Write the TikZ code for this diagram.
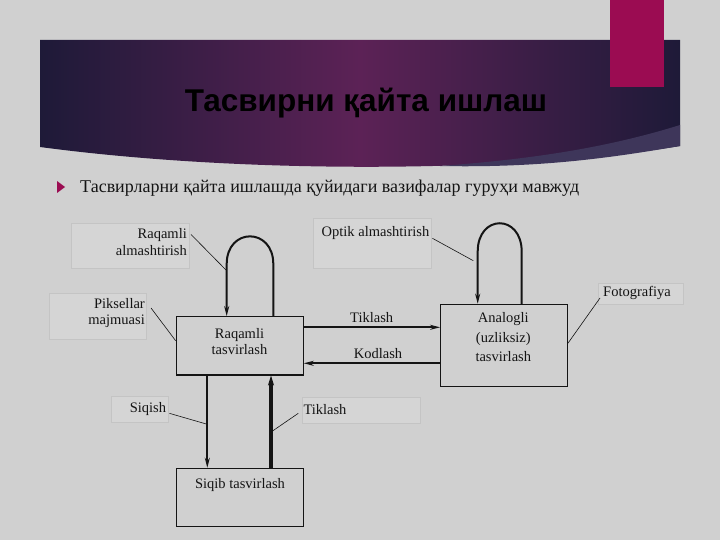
\documentclass[tikz,border=0pt]{standalone}
\usepackage{fontspec}
\setmainfont{Liberation Serif}
\newfontfamily\titlefont{Liberation Sans}
\usetikzlibrary{arrows.meta,calc}
\definecolor{bgc}{RGB}{208,208,208}
\definecolor{banddark}{RGB}{30,26,56}
\definecolor{bandmid}{RGB}{92,34,86}
\definecolor{swoosh}{RGB}{62,54,90}
\definecolor{pinkc}{RGB}{155,12,82}
\definecolor{lblfill}{RGB}{213,213,213}
\definecolor{lbldraw}{RGB}{196,196,196}
\definecolor{ink}{RGB}{20,20,20}
\tikzset{
  procbox/.style={draw=ink,line width=1.1pt,inner sep=0pt},
  lblbox/.style={draw=lbldraw,fill=lblfill,line width=0.6pt,inner sep=0pt},
  dtxt/.style={font=\fontsize{14.5}{16.5}\selectfont,text=ink,inner sep=0pt,align=center},
  leader/.style={draw=ink,line width=0.6pt},
  flow/.style={draw=ink,line width=2pt,-{Stealth[length=10pt,width=5pt]}},
  thickflow/.style={draw=ink,line width=3.2pt,-{Stealth[length=10pt,width=6pt]}}
}
\begin{document}
\begin{tikzpicture}[x=1pt,y=-1pt]
\useasboundingbox (0,0) rectangle (720,540);
\fill[bgc] (0,0) rectangle (720,540);
% header band
\shade[left color=banddark,right color=banddark,middle color=bandmid]
  (40,40) -- (680,40) -- (680,146) .. controls (520,172) and (250,175) .. (40,147) -- cycle;
\fill[swoosh] (680,125) .. controls (600,150) and (520,160) .. (440,166)
  .. controls (540,168) and (610,158) .. (680,146) -- cycle;
\fill[pinkc] (610,0) rectangle (664,87);
\node[font=\titlefont\bfseries\fontsize{31.5}{36}\selectfont,text=black,inner sep=0pt] (title) at (366,103) {Тасвирни қайта ишлаш};
% bullet
\fill[pinkc] (57,181) -- (65,187) -- (57,193) -- cycle;
\node[anchor=west,font=\fontsize{18}{21}\selectfont,text=ink,inner sep=0pt] (intro) at (80,188.5) {Тасвирларни қайта ишлашда қуйидаги вазифалар гуруҳи мавжуд};
% label boxes
\node[lblbox,minimum width=118pt,minimum height=45pt] (lb1) at (130,245.5) {};
\node[dtxt,align=right,anchor=east] (lt1) at (187,242) {Raqamli\\almashtirish};
\node[lblbox,minimum width=97pt,minimum height=46pt] (lb2) at (97.5,316) {};
\node[dtxt,align=right,anchor=east] (lt2) at (145,313) {Piksellar\\majmuasi};
\node[lblbox,minimum width=118pt,minimum height=50pt] (lb3) at (372.5,243.3) {};
\node[dtxt,anchor=west] (lt3) at (321.5,233.3) {Optik almashtirish};
\node[lblbox,minimum width=85pt,minimum height=21pt] (lb4) at (640.5,293.3) {};
\node[dtxt,anchor=west] (lt4) at (603,293) {Fotografiya};
\node[lblbox,minimum width=57pt,minimum height=26pt] (lb5) at (140,409.7) {};
\node[dtxt] (lt5) at (148,409.3) {Siqish};
\node[lblbox,minimum width=118pt,minimum height=26pt] (lb6) at (361.5,410.3) {};
\node[dtxt,anchor=west] (lt6) at (303.3,409.3) {Tiklash};
% process boxes
\node[procbox,minimum width=127pt,minimum height=58.3pt] (rt) at (239.7,345.8) {};
\node[dtxt] (rtt) at (239.5,341.7) {Raqamli\\tasvirlash};
\node[procbox,minimum width=126.7pt,minimum height=82.4pt] (an) at (504,345.5) {};
\node[dtxt,font=\fontsize{14.5}{19.5}\selectfont] (ant) at (503.3,337.5) {Analogli\\(uzliksiz)\\tasvirlash};
\node[procbox,minimum width=126.7pt,minimum height=58.3pt] (sq) at (240,497.5) {};
\node[dtxt] (sqt) at (240,485) {Siqib tasvirlash};
% helper coordinates
\coordinate (yT) at (0,327.3);
\coordinate (yK) at (0,363.3);
\coordinate (xD) at (207.3,0);
\coordinate (xU) at (271,0);
\coordinate (xL1) at (226.7,0);
\coordinate (xR1) at (273.3,0);
\coordinate (xL2) at (477.7,0);
\coordinate (xR2) at (521.7,0);
% flows
\draw[flow] (rt.east |- yT) -- (an.west |- yT);
\node[dtxt] (tk) at (371.7,317.3) {Tiklash};
\draw[flow] (an.west |- yK) -- (rt.east |- yK);
\node[dtxt] (kd) at (378,354) {Kodlash};
\draw[flow] (rt.south -| xD) -- (sq.north -| xD);
\draw[thickflow] (sq.north -| xU) -- (rt.south -| xU);
% loops
\draw[flow] (rt.north -| xR1) -- ++(0,-52) .. controls ++(0,-37) and ++(0,-37) .. ($(rt.north -| xL1)+(0,-52)$) -- (rt.north -| xL1);
\draw[flow] (an.north -| xR2) -- ++(0,-52) .. controls ++(0,-38) and ++(0,-38) .. ($(an.north -| xL2)+(0,-52)$) -- (an.north -| xL2);
% leaders
\coordinate (p1) at (226,270);
\draw[leader] (lt1.north east) ++(4,6) -- (p1);
\draw[leader] (151,308) -- (rt.west |- 0,340.7);
\coordinate (p3) at (473.3,260.7);
\draw[leader] (lt3.east) ++(3,5) -- (p3);
\draw[leader] (lt4.west) ++(-3,5) -- (an.east |- 0,343.3);
\coordinate (p5) at (207.3,424.3);
\draw[leader] (lt5.east) ++(3,4) -- (p5);
\coordinate (p6) at (271.5,431.7);
\draw[leader] (lt6.west) ++(-5,4) -- (p6);
\end{tikzpicture}
\end{document}
